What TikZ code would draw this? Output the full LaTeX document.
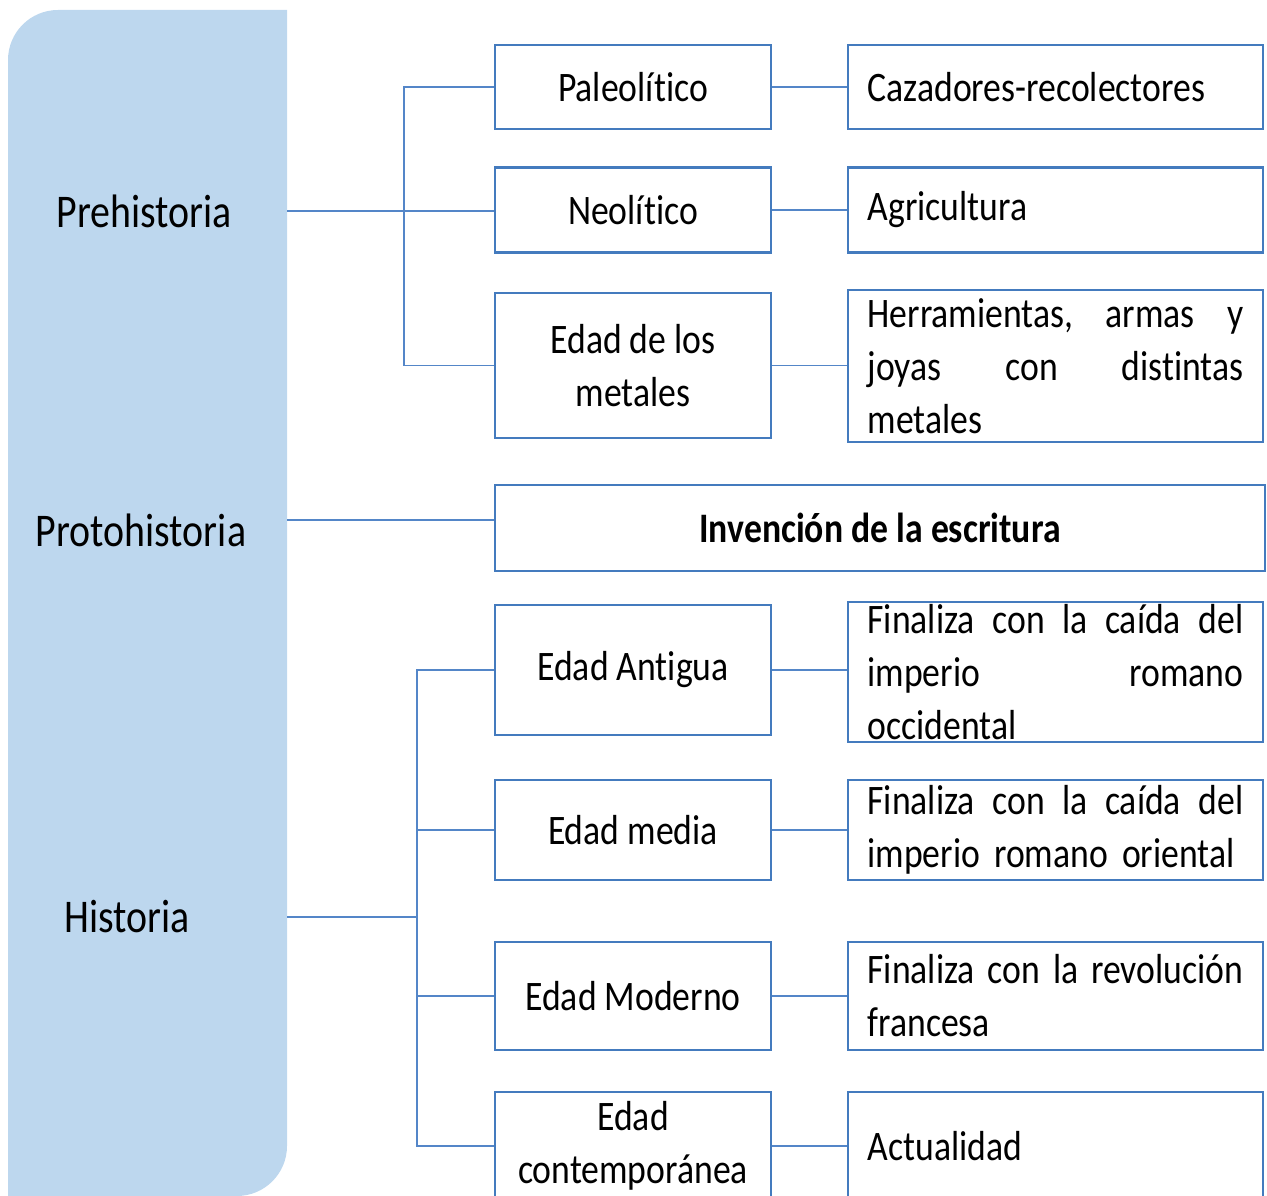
\documentclass[tikz,border=0pt]{standalone}
\usepackage{fontspec}
\setmainfont{Carlito}[FakeStretch=0.85, Ligatures=NoCommon]
\usepackage{tikz}
\usetikzlibrary{positioning}

\definecolor{panelblue}{RGB}{189,215,238}
\definecolor{boxblue}{RGB}{68,123,190}
\definecolor{lineblue}{RGB}{84,134,200}
\newcommand{\boxfont}{\fontsize{23.9pt}{30.2pt}\selectfont}
\newcommand{\periodfont}{\fontsize{26.7pt}{32pt}\selectfont}

\begin{document}
\begin{tikzpicture}[x=0.02cm, y=0.02cm,
    era/.style={draw=boxblue, line width=1.6pt, fill=white, minimum width=5.52cm,
        font=\boxfont, align=center, inner sep=0pt},
    note/.style={draw=boxblue, line width=1.6pt, fill=white, minimum width=8.3cm,
        text width=7.52cm, font=\boxfont, align=left, inner xsep=0.39cm, inner ysep=0pt},
    link/.style={draw=lineblue, line width=1.1pt},
    period/.style={font=\periodfont, inner sep=0pt}]
    %%Background
    \useasboundingbox (0,0) rectangle (1267,1196);

    %%Panel
    \fill[panelblue] (8,0) -- (8,1136) arc[start angle=180, end angle=90, radius=1cm]
        -- (287,1186) -- (287,50) arc[start angle=0, end angle=-90, radius=1cm] -- cycle;
    \node[period] (pre) at (144,985) {Prehistoria};
    \node[period] (proto) at (141,666) {Protohistoria};
    \node[period] (hist) at (127,279) {Historia};
    \coordinate (preE) at (287,985);
    \coordinate (protoE) at (287,676);
    \coordinate (histE) at (287,279);
    \coordinate (hbar) at (418,279);

    %%Ages
    \node[era, minimum height=1.68cm] (paleo) at (633,1109) {Paleolítico};
    \node[era, minimum height=1.7cm] (neo) at (633,986) {Neolítico};
    \node[era, minimum height=2.9cm] (metal) at (633,830.5) {Edad de los\\metales};
    \node[era, minimum width=15.4cm, minimum height=1.72cm, font=\boxfont\bfseries]
        (escritura) at (880,668) {Invención de la escritura};
    \node[era, minimum height=2.6cm] (antigua) at (633,526) {Edad Ant\kern0pt igua};
    \node[era, minimum height=2cm] (media) at (633,366) {Edad media};
    \node[era, minimum height=2.16cm] (moderna) at (633,200) {Edad Moderno};
    \node[era, minimum height=2.16cm] (contemp) at (633,50) {Edad\\contemporánea};

    %%Notes
    \node[note, minimum height=1.68cm] (caza) at (1055.5,1109) {Cazadores-recolectores};
    \node[note, minimum height=1.7cm] (agri) at (1055.5,986) {Agricultura};
    \node[note, minimum height=3.04cm] (herr) at (1055.5,830)
        {Herramientas,\hfill armas\hfill y\\joyas\hfill con\hfill distintas\\metales};
    \node[note, minimum height=2.8cm] (occ) at (1055.5,524)
        {Finaliza\hfill con\hfill la\hfill caída\hfill del\\imperio\hfill romano\\occidental};
    \node[note, minimum height=2cm] (ori) at (1055.5,366)
        {Finaliza\hfill con\hfill la\hfill caída\hfill del\\imperio romano oriental};
    \node[note, minimum height=2.16cm] (revo) at (1055.5,200)
        {Finaliza\hfill con\hfill la\hfill revolución\\francesa};
    \node[note, minimum height=2.16cm] (actual) at (1055.5,50) {Actualidad};

    %%Links
    \draw[link] (preE) -- (preE -| neo.west);
    \draw[link] (paleo.west) -- ++(-90,0) |- (metal.west);
    \draw[link] (protoE) -- (protoE -| escritura.west);
    \draw[link] (histE) -- (hbar);
    \draw[link] (antigua.west) -- ++(-77,0) |- (contemp.west);
    \draw[link] (media.west) -- ++(-77,0);
    \draw[link] (moderna.west) -- ++(-77,0);

    \draw[link] (paleo.east) -- (caza.west);
    \draw[link] (neo.east) -- (agri.west);
    \draw[link] (metal.east) -- (metal.east -| herr.west);
    \draw[link] (antigua.east) -- (antigua.east -| occ.west);
    \draw[link] (media.east) -- (ori.west);
    \draw[link] (moderna.east) -- (revo.west);
    \draw[link] (contemp.east) -- (actual.west);

\end{tikzpicture}
\end{document}
